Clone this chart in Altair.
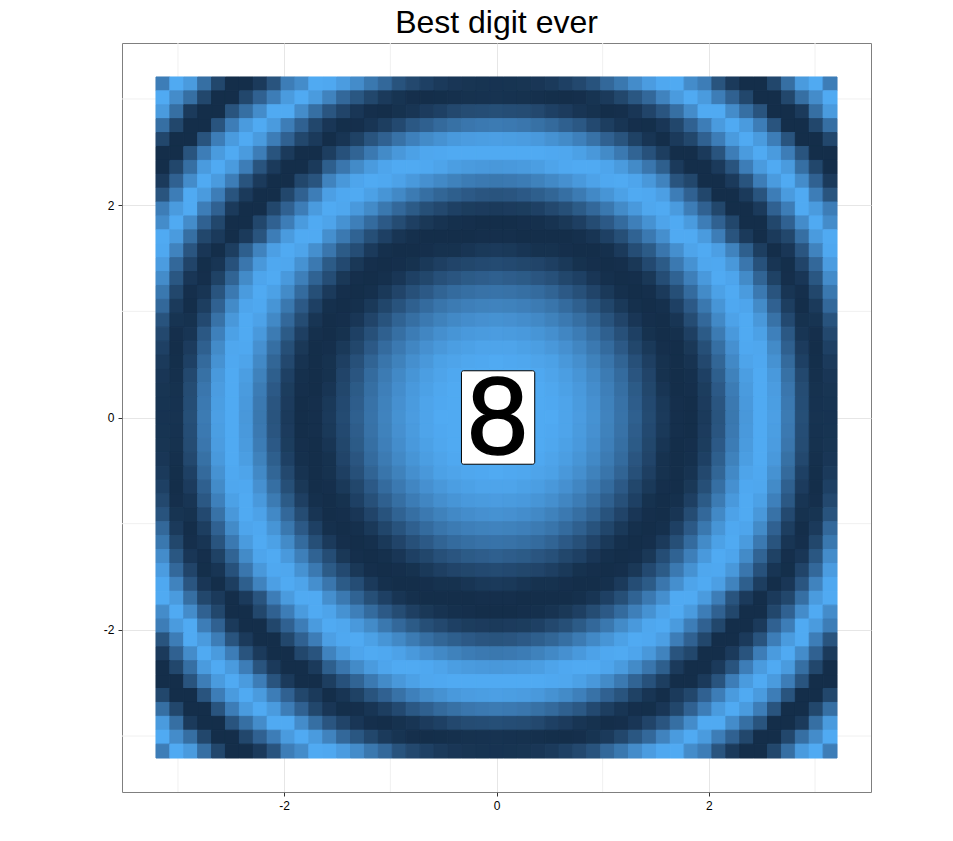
import altair as alt
import pandas as pd

TITLE = "Best digit ever"
DIGIT = "8"
X_DOMAIN = [-3.527, 3.527]
MAJOR_TICKS = [-2, 0, 2]
MINOR_TICKS = [-3, -1, 1, 3]
CELL = 0.1309
BOX = [-0.33, 0.36, -0.44, 0.44]
COLOURS = ["#142E4A", "#50AAF2"]

# Shade of each cell, estimated from zoomed crops of the picture on a
# 0 (darkest) to 9 (brightest) scale; the right-hand parts were smoothed using
# the ring profile seen in the picture. Top-left quarter, rows top to bottom,
# read above its diagonal. The picture is mirror symmetric in both axes and
# across the diagonal, so the remaining cells repeat these readings.
R00 = [6, 9, 8, 5, 2, 0, 0, 1, 3, 6, 7, 9, 8.9, 8.1, 7, 5.6, 4.5, 2.9, 2.1, 1.5, 1, 0.7, 0.55, 0.5, 0.45]
R01 = [9, 7, 5, 2, 0, 0, 2, 4, 6, 8, 9, 8, 6.4, 4.5, 3.2, 2, 1, 0.5, 0.1, 0, 0.05, 0.15, 0.3, 0.35, 0.4]
R02 = [8, 5, 1, 0, 0, 3, 5, 7, 9, 9, 7, 5, 3.1, 1.8, 0.7, 0.1, 0, 0.3, 0.6, 1.1, 1.5, 2.1, 2.4, 2.5, 2.6]
R03 = [6, 2, 0, 0, 3, 6, 8, 9, 8, 6, 4, 2, 0.7, 0.05, 0.1, 0.6, 1.3, 2.2, 3.3, 3.9, 4.6, 5.1, 5.5, 5.7, 5.8]
R04 = [3, 0, 0, 3, 6, 8, 9, 8, 6, 4, 2, 1, 0, 0.6, 1.6, 3, 4, 5.2, 6.2, 6.9, 7.4, 7.9, 8.1, 8.2, 8.3]
R05 = [0, 0, 2, 5, 8, 9, 8, 6, 3, 1, 0, 0, 1.3, 2.8, 4.2, 5.7, 6.9, 7.8, 8.4, 8.8, 8.9, 9, 9, 9, 9]
R06 = [0, 2, 5, 8, 9, 8, 6, 3, 1, 0, 0, 1, 3.8, 5.5, 6.9, 8, 8.7, 9, 9, 8.9, 8.6, 8.2, 8, 7.9, 7.8]
R07 = [1, 5, 7, 9, 8, 5, 3, 1, 0, 0, 2, 3, 6.4, 7.8, 8.7, 9, 8.9, 8.5, 7.9, 7.3, 6.8, 6.3, 5.9, 5.7, 5.6]
R08 = [3, 7, 9, 8, 5, 2, 1, 0, 0, 2, 4, 6, 8.3, 8.9, 9, 8.4, 7.6, 6.8, 5.8, 5, 4.3, 3.8, 3.4, 3.1, 3]
R09 = [5, 9, 9, 6, 3, 1, 0, 0, 2, 4, 6, 8, 9, 8.8, 7.9, 6.9, 5.6, 4.5, 3.5, 2.6, 2.1, 1.5, 1.2, 1.1, 1]
R10 = [7, 9, 7, 4, 2, 0, 0, 2, 4, 6, 8, 9, 8.6, 7.4, 6.1, 4.7, 3.4, 2.4, 1.4, 0.8, 0.4, 0.2, 0.1, 0, 0]
R11 = [9, 7, 5, 2, 0, 0, 2, 4, 7, 8, 9, 9, 7.2, 5.7, 4.1, 2.6, 1.5, 0.6, 0.2, 0, 0, 0, 0, 0.1, 0.1]
R12 = [9, 6, 3, 1, 0, 1, 3, 5, 7, 9, 9, 7, 5.5, 3.5, 2.5, 1, 0.2, 0, 0, 0.1, 0.3, 0.3, 0.6, 0.9, 1]
UPPER = [R00, R01, R02, R03, R04, R05, R06, R07, R08, R09, R10, R11, R12]

# Inner block, columns 12 to 24 of rows 13 to 24.
I13 = [3.5, 2.2, 0.8, 0.1, 0, 0.1, 0.3, 0.9, 1.4, 1.8, 2, 2.2, 2.3]
I14 = [2.5, 0.8, 0.1, 0, 0.2, 0.7, 1.5, 2, 2.7, 3.1, 3.5, 3.7, 3.9]
I15 = [1, 0.1, 0, 0.2, 0.9, 1.8, 2.7, 3.4, 4.2, 4.7, 5, 5.2, 5.3]
I16 = [0.2, 0, 0.2, 0.9, 1.9, 2.9, 3.9, 4.7, 5.4, 5.8, 6.1, 6.3, 6.4]
I17 = [0, 0.1, 0.7, 1.8, 2.9, 4.1, 5, 5.7, 6.3, 6.8, 7.1, 7.3, 7.4]
I18 = [0, 0.3, 1.5, 2.7, 3.9, 5, 5.9, 6.6, 7.2, 7.6, 7.9, 8, 8.1]
I19 = [0.1, 0.9, 2, 3.4, 4.7, 5.7, 6.6, 7.3, 7.8, 8.2, 8.4, 8.6, 8.6]
I20 = [0.3, 1.4, 2.7, 4.2, 5.4, 6.3, 7.2, 7.8, 8.4, 8.6, 8.8, 8.9, 9]
I21 = [0.3, 1.8, 3.1, 4.7, 5.8, 6.8, 7.6, 8.2, 8.6, 8.9, 9, 9, 9]
I22 = [0.6, 2, 3.5, 5, 6.1, 7.1, 7.9, 8.4, 8.8, 9, 9, 9, 9]
I23 = [0.9, 2.2, 3.7, 5.2, 6.3, 7.3, 8, 8.6, 8.9, 9, 9, 9, 9]
I24 = [1, 2.3, 3.9, 5.3, 6.4, 7.4, 8.1, 8.6, 9, 9, 9, 9, 9]
INNER = [I13, I14, I15, I16, I17, I18, I19, I20, I21, I22, I23, I24]

quarter = [list(row) for row in UPPER] + [[None] * 12 + list(row) for row in INNER]
for r in range(25):
    for c in range(r):
        quarter[r][c] = quarter[c][r]

rows = quarter + quarter[-2::-1]
records = []
for r, row in enumerate(rows):
    full = row + row[-2::-1]
    for c, level in enumerate(full):
        cx, cy = (c - 24) * CELL, (24 - r) * CELL
        records.append({"x0": cx - CELL / 2, "x1": cx + CELL / 2,
                        "y0": cy - CELL / 2, "y1": cy + CELL / 2,
                        "level": level})
cells = pd.DataFrame(records)

x_scale = alt.Scale(domain=X_DOMAIN, nice=False, zero=False)
label_expr = "toString(datum.value)"


def make_axis():
    return alt.Axis(values=MAJOR_TICKS, title=None, grid=True, gridColor="#e6e6e6",
                    gridWidth=1, domain=False, tickColor="#333333", tickSize=4,
                    labelColor="#000000", labelFont="Liberation Sans", labelFontSize=12,
                    labelPadding=4, labelExpr=label_expr)


minor_x = alt.Chart(pd.DataFrame({"v": MINOR_TICKS})).mark_rule(
    color="#f0f0f0", strokeWidth=1).encode(x=alt.X("v:Q", scale=x_scale, axis=make_axis()))
minor_y = alt.Chart(pd.DataFrame({"v": MINOR_TICKS})).mark_rule(
    color="#f0f0f0", strokeWidth=1).encode(y=alt.Y("v:Q", scale=x_scale, axis=make_axis()))

colour = alt.Scale(domain=[0, 9], range=COLOURS)
heat = alt.Chart(cells).mark_rect(strokeWidth=1).encode(
    x=alt.X("x0:Q", scale=x_scale, axis=make_axis()),
    x2="x1:Q",
    y=alt.Y("y0:Q", scale=x_scale, axis=make_axis()),
    y2="y1:Q",
    color=alt.Color("level:Q", scale=colour, legend=None),
    stroke=alt.Color("level:Q", scale=colour, legend=None),
)

box = alt.Chart(pd.DataFrame({"a": [BOX[0]], "b": [BOX[1]], "c": [BOX[2]], "d": [BOX[3]]})).mark_rect(
    fill="#ffffff", stroke="#000000", strokeWidth=1, cornerRadius=2).encode(
    x=alt.X("a:Q", scale=x_scale), x2="b:Q",
    y=alt.Y("c:Q", scale=x_scale), y2="d:Q")

digit = alt.Chart(pd.DataFrame({"x": [0.01], "y": [0], "t": [DIGIT]})).mark_text(
    font="Liberation Sans", fontSize=110, color="#000000", stroke="#000000", strokeWidth=1.5,
    baseline="middle", align="center", dy=3).encode(
    x=alt.X("x:Q", scale=x_scale), y=alt.Y("y:Q", scale=x_scale), text="t:N")

chart = alt.layer(minor_x, minor_y, heat, box, digit).resolve_scale(
    color="shared"
).properties(
    width=749, height=749,
    title=alt.TitleParams(TITLE, font="Liberation Sans", fontSize=32, fontWeight="normal",
                          color="#000000", anchor="middle", offset=3),
    padding={"left": 114, "top": 35, "right": 60, "bottom": 40},
    autosize=alt.AutoSizeParams(type="none"),
    background="#ffffff",
).configure_view(stroke="#7f7f7f", strokeWidth=1)

chart.save("out.html", embed_options={"renderer": "svg", "actions": False})
